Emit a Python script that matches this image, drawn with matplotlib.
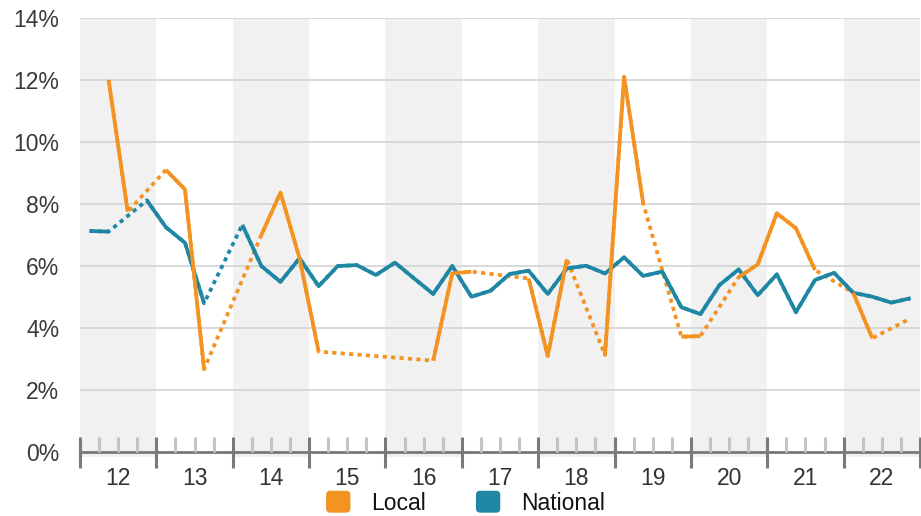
import numpy as np
import matplotlib
matplotlib.use("Agg")
import matplotlib.pyplot as plt
from matplotlib.patches import Patch, FancyBboxPatch
from matplotlib.legend_handler import HandlerPatch

plt.rcParams['font.family'] = ['Liberation Sans', 'DejaVu Sans']

years = [12, 13, 14, 15, 16, 17, 18, 19, 20, 21, 22]
nan = np.nan
local = [nan, 12.0, 7.75, nan, 9.1, 8.47, 2.67, nan, nan, 7.0, 8.37, 6.25,
         3.24, nan, nan, nan, nan, nan, 2.95, 5.76, 5.82, nan, nan, 5.6,
         3.1, 6.22, nan, 3.13, 12.1, 8.02, nan, 3.72, 3.74, nan, 5.64, 6.05,
         7.7, 7.22, 5.87, nan, 5.14, 3.67, nan, 4.31]
national = [7.13, 7.11, nan, 8.12, 7.25, 6.75, 4.8, nan, 7.33, 6.0, 5.49, 6.25,
            5.35, 6.0, 6.03, 5.71, 6.11, 5.6, 5.1, 6.0, 5.01, 5.2, 5.74, 5.85,
            5.1, 5.92, 6.01, 5.76, 6.28, 5.68, 5.82, 4.67, 4.45, 5.39, 5.89, 5.06,
            5.73, 4.51, 5.55, 5.78, 5.14, 5.01, 4.82, 4.96]
series_names = ['Local', 'National']
yticks = [0, 2, 4, 6, 8, 10, 12, 14]

ORANGE = '#F39322'
TEAL = '#1F87A4'

W, H = 921, 516
fig = plt.figure(figsize=(W / 100, H / 100), dpi=100)
ax = fig.add_axes([80 / W, (H - 457) / H, 840 / W, 439 / H])

nq = len(years) * 4
ax.set_xlim(0, nq)
ax.set_ylim(-0.16, 14)

# alternating year bands
for k, yr in enumerate(years):
    if k % 2 == 0:
        ax.axvspan(4 * k, 4 * k + 4, color='#F1F1F1', lw=0, zorder=0)

# gridlines
for t in yticks[1:]:
    ax.axhline(t, color='#D3D3D3', lw=1.2, zorder=1)

# axis line and ticks
ax.axhline(0, color='#777777', lw=2.0, zorder=2)
qb = np.arange(nq + 1)
minor = [q for q in qb if q % 4 != 0]
major = [q for q in qb if q % 4 == 0]
ax.vlines(minor, 0, 0.48, colors='#C4C4C4', lw=2.2, zorder=2, clip_on=False)
ax.vlines(major, -0.52, 0.48, colors='#7A7A7A', lw=2.2, zorder=3, clip_on=False)

x = np.arange(nq) + 0.5
loc = np.array(local, dtype=float)
nat = np.array(national, dtype=float)

LW = 2.7
dash = dict(lw=LW, dashes=(1.1, 1.15), dash_capstyle='butt', solid_joinstyle='round')
vl = ~np.isnan(loc)
vn = ~np.isnan(nat)
ax.plot(x[vl], loc[vl], color=ORANGE, zorder=4, **dash)
ax.plot(x[vn], nat[vn], color=TEAL, zorder=4, **dash)
ax.plot(x, nat, color=TEAL, lw=LW, solid_joinstyle='round', solid_capstyle='butt', zorder=5)
ax.plot(x, loc, color=ORANGE, lw=LW, solid_joinstyle='round', solid_capstyle='butt', zorder=6)

ax.set_yticks(yticks)
ax.set_yticklabels([f'{t}%' for t in yticks], fontsize=16.5, color='#3A3A3A')
ax.set_xticks([4 * k + 2 for k in range(len(years))])
ax.set_xticklabels([str(y) for y in years], fontsize=16.5, color='#333333')
ax.tick_params(axis='y', length=0, pad=15)
ax.tick_params(axis='x', length=0, pad=7)
for s in ax.spines.values():
    s.set_visible(False)


def rounded(legend, orig_handle, xdescent, ydescent, width, height, fontsize):
    return FancyBboxPatch((-xdescent, -ydescent), width, height,
                          boxstyle='round,pad=0,rounding_size=2.5')


handles = [Patch(color=ORANGE, label=series_names[0]),
           Patch(color=TEAL, label=series_names[1])]
fig.legend(handles=handles, loc='center', bbox_to_anchor=(466 / W, 13 / H),
           ncol=2, frameon=False, fontsize=16.5, handlelength=1.0, handleheight=1.0,
           handletextpad=0.95, columnspacing=2.2, borderpad=0, borderaxespad=0,
           handler_map={Patch: HandlerPatch(patch_func=rounded)},
           labelcolor='#111111')

fig.savefig('out.png', dpi=100)
